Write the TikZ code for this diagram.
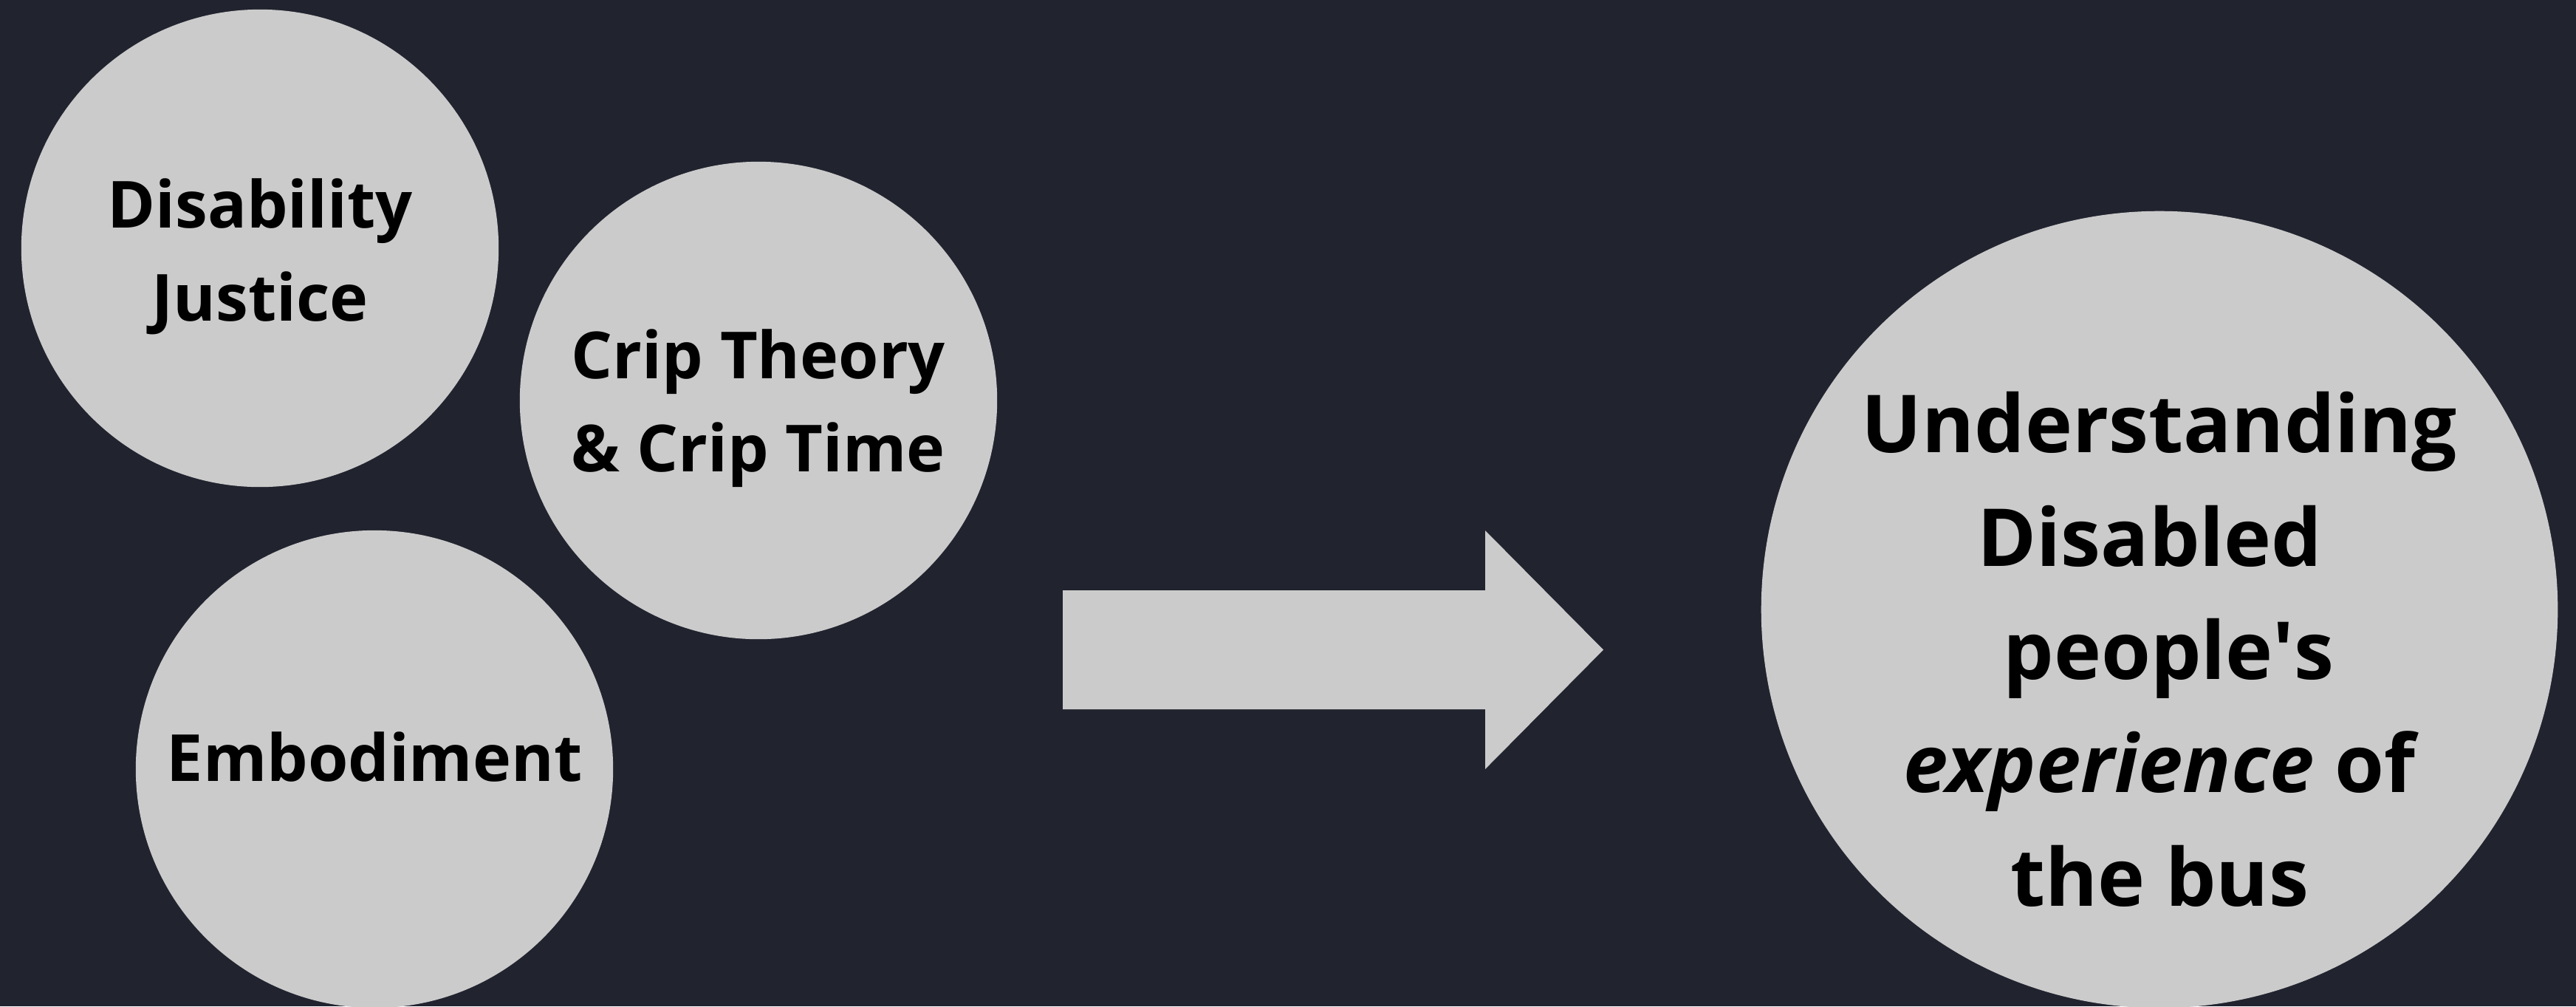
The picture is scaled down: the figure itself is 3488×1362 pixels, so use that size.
\documentclass[tikz,border=0pt]{standalone}
\usepackage{fontspec}
\setmainfont{Open Sans}
\definecolor{bgnavy}{RGB}{33,36,47}
\definecolor{discgrey}{RGB}{203,203,203}
\begin{document}
\begin{tikzpicture}[x=0.01cm, y=-0.01cm,
  disc/.style={circle, fill=discgrey, inner sep=0pt, minimum size=#1},
  smalltext/.style={font=\fontsize{25}{35.6}\selectfont\bfseries, align=center,
    anchor=base, inner sep=0pt, text=black},
  bigtext/.style={font=\fontsize{30.8}{43.6}\selectfont\bfseries, align=center,
    anchor=base, inner sep=0pt, text=black}]
  % canvas
  \fill[bgnavy] (0,0) rectangle (3488,1362);
  \useasboundingbox (0,0) rectangle (3488,1362);

  % the three input discs and the outcome disc
  \node[disc=6.46cm] (justice) at (352,336) {};
  \node[disc=6.46cm] (crip) at (1027,542) {};
  \node[disc=6.46cm] (embodiment) at (507,1041) {};
  \node[disc=10.78cm] (outcome) at (2924,825) {};

  % block arrow
  \fill[discgrey] (1439,799) -- (2011,799) -- (2011,718) -- (2171,879.5)
    -- (2011,1041) -- (2011,960) -- (1439,960) -- cycle;

  % labels (base anchor sits on the last line)
  \node[smalltext] (justice-text) at (352,434) {Disability\\Justice};
  \node[smalltext] (crip-text) at (1027,638) {Crip Theory\\\& Crip Time};
  \node[smalltext] (embodiment-text) at (507,1057) {Embodiment};
  \node[bigtext] (outcome-text) at (2924,1226)
    {Understanding\\\mbox{Disabled\hspace{0.24em}}\\\mbox{\hspace{0.23em}people\textquotesingle s}\\\textit{experience} of\\the bus};
\end{tikzpicture}
\end{document}
